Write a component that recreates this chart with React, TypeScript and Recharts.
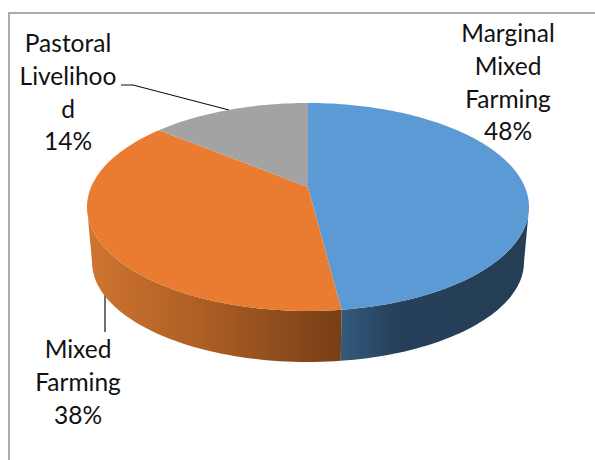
import React from "react";
import { PieChart, Pie, Cell } from "recharts";

const categories = ["Marginal Mixed Farming", "Mixed Farming", "Pastoral Livelihood"];
const shares = [48, 38, 14];
const topColors = ["#5b9ad5", "#ea7c31", "#a3a3a3"];
const wallFills = ["url(#wallBlue)", "url(#wallOrange)", "#7c7c7c"];
const labelLines = [
  ["Marginal", "Mixed", "Farming"],
  ["Mixed", "Farming"],
  ["Pastoral", "Livelihoo", "d"],
];
const labelAnchors = [
  { x: 508, y: 42 },
  { x: 78, y: 358 },
  { x: 68, y: 52 },
];
const rows = categories.map((name, i) => ({ name, value: shares[i] }));

const FONT = "Lato, Carlito, 'Open Sans', sans-serif";
const FONT_SIZE = 24.5;
const LINE_H = 32.8;
const RY_RATIO = 104 / 221;
const PERSPECTIVE = -0.19;
const DEPTH_CY = 55;
const BOTTOM_RX_RATIO = 216 / 221;
const BOTTOM_RY_RATIO = 100 / 104;

function project(angleDeg: number) {
  const r = (angleDeg * Math.PI) / 180;
  const x = Math.cos(r);
  const y = -Math.sin(r);
  const d = 1 + PERSPECTIVE * y;
  return {
    x: (x * Math.sqrt(1 - PERSPECTIVE * PERSPECTIVE)) / d,
    y: (y + PERSPECTIVE) / d,
  };
}

function sampleAngles(a: number, b: number) {
  const n = Math.max(2, Math.ceil(Math.abs(a - b) / 1.5));
  return Array.from({ length: n + 1 }, (_, i) => a + ((b - a) * i) / n);
}

function Sector3D(props: any) {
  const { cx, cy, outerRadius: R, startAngle, endAngle, index } = props;
  const ry = R * RY_RATIO;
  const top = (a: number) => {
    const p = project(a);
    return [cx + R * p.x, cy + ry * p.y];
  };
  const bottom = (a: number) => {
    const p = project(a);
    return [cx + R * BOTTOM_RX_RATIO * p.x, cy + DEPTH_CY + ry * BOTTOM_RY_RATIO * p.y];
  };
  const ax = cx;
  const ay = cy + ry * PERSPECTIVE;
  const angles = sampleAngles(startAngle, endAngle);
  const topPts = angles.map(top);
  const d = `M${ax},${ay} ` + topPts.map((p) => `L${p[0]},${p[1]}`).join(" ") + " Z";

  const frontAngles = angles.filter((a) => project(a).y >= 0);
  let wall = "";
  if (frontAngles.length > 1) {
    const t = frontAngles.map(top);
    const b = frontAngles.map(bottom).reverse();
    wall = [...t, ...b].map((p, i) => `${i ? "L" : "M"}${p[0]},${p[1]}`).join(" ") + " Z";
  }
  return (
    <g>
      {wall ? <path d={wall} fill={wallFills[index]} /> : null}
      <path d={d} fill={topColors[index]} />
    </g>
  );
}

function renderLabel(props: any) {
  const { index, value } = props;
  const pos = labelAnchors[index];
  const lines = [...labelLines[index], `${value}%`];
  return (
    <text key={index} textAnchor="middle" fontFamily={FONT} fontSize={FONT_SIZE} fill="#111111">
      {lines.map((l, i) => (
        <tspan key={i} x={pos.x} y={pos.y + i * LINE_H}>
          {l}
        </tspan>
      ))}
    </text>
  );
}

export default function App() {
  return (
    <div style={{ position: "absolute", left: 0, top: 0, width: 595, height: 460, background: "#fff", overflow: "hidden" }}>
      <div style={{ position: "absolute", left: 8, top: 12, width: 587, height: 448, borderLeft: "2px solid #ababab", borderTop: "2px solid #ababab", boxSizing: "border-box" }} />
      <div style={{ position: "absolute", left: 0, top: 0 }}>
        <PieChart width={595} height={460} margin={{ top: 0, right: 0, bottom: 0, left: 0 }}>
          <defs>
            <linearGradient id="wallOrange" x1="0" y1="0" x2="1" y2="0">
              <stop offset="0" stopColor="#cf7530" />
              <stop offset="0.45" stopColor="#ad5f24" />
              <stop offset="0.8" stopColor="#8a4a1c" />
              <stop offset="1" stopColor="#773e14" />
            </linearGradient>
            <linearGradient id="wallBlue" x1="0" y1="0" x2="1" y2="0">
              <stop offset="0" stopColor="#345a7d" />
              <stop offset="0.3" stopColor="#254058" />
              <stop offset="1" stopColor="#233e55" />
            </linearGradient>
          </defs>
          <Pie
            data={rows}
            dataKey="value"
            nameKey="name"
            cx={308}
            cy={207}
            innerRadius={0}
            outerRadius={221}
            startAngle={90}
            endAngle={-270}
            stroke="none"
            isAnimationActive={false}
            shape={Sector3D}
            label={renderLabel}
            labelLine={false}
          >
            {rows.map((r, i) => (
              <Cell key={r.name} fill={topColors[i]} />
            ))}
          </Pie>
          <polyline points="121,85 133,85 229,110" fill="none" stroke="#111" strokeWidth={1.2} />
          <polyline points="105,288 105,332" fill="none" stroke="#111" strokeWidth={1.2} />
        </PieChart>
      </div>
    </div>
  );
}
